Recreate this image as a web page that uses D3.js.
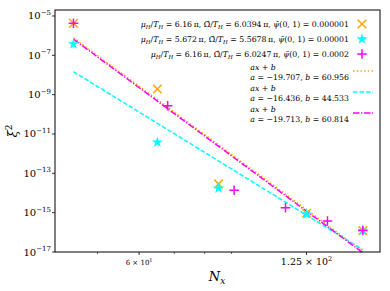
<!DOCTYPE html>
<meta charset="utf-8">
<style>
body { margin: 0; background: #fff; }
.canvas text { font-family: "DejaVu Serif", "Liberation Serif", serif; fill: #000; }
.frame { fill: none; stroke: #000; stroke-width: 1; }
.tick line { stroke: #000; stroke-width: 0.8; }
</style>
<svg class="canvas"></svg>
<script src="https://cdn.jsdelivr.net/npm/d3@7"></script>
<script>

// data (xi^2 values as log10)
var nxA = [45, 65, 85, 125, 160];
var logA = [-5.37, -8.71, -13.54, -15.03, -15.91];
var nxB = [45, 65, 85, 125, 160];
var logB = [-6.42, -11.42, -13.76, -15.08, -15.91];
var nxC = [45, 68, 91, 114, 137, 160];
var logC = [-5.37, -9.56, -13.86, -14.75, -15.42, -15.91];

// fits: xi^2 = exp(b) * Nx^a
var fitA = [-19.707, -16.436, -19.713];
var fitB = [60.956, 44.533, 60.814];
var fitRange = [45, 160];

var colors = ["#ffa500", "#00ffff", "#ff00ff"];
var dashes = ["1.5,2.2", "4.5,2", "6.5,1.6,1.3,1.6"];

var yTicks = [-5, -7, -9, -11, -13, -15, -17];
var xMajor = [60, 125];
var xMajorLab = [["6", "1"], ["1.25", "2"]];
var xMinor = [50, 70, 80, 90];

var width = 390, height = 291;
var L = 55, R = 380, T = 10, B = 252;

var svg = d3.select(".canvas").attr("width", width).attr("height", height);

var x = d3.scaleLog().domain([41.5, 172.5]).range([L, R]);
var y = d3.scaleLog().domain([1e-17, Math.pow(10, -4.695)]).range([B, T]);

// fit lines
fitA.forEach(function(a, i) {
	var pts = fitRange.map(function(n) { return [n, Math.exp(fitB[i]) * Math.pow(n, a)]; });
	svg.append("path")
		.attr("d", d3.line().x(function(d) { return x(d[0]); }).y(function(d) { return y(d[1]); })(pts))
		.attr("fill", "none")
		.attr("stroke", colors[i])
		.attr("stroke-width", 1.5)
		.attr("stroke-dasharray", dashes[i]);
});

// markers
var symX = d3.symbol().type(d3.symbolX).size(50);
var symStar = d3.symbol().type(d3.symbolStar).size(38);
var symPlus = d3.symbol().type(d3.symbolPlus).size(32);

function drawPts(nx, lg, sym, i, filled) {
	svg.selectAll(null).data(nx).enter().append("path")
		.attr("d", sym)
		.attr("transform", function(d, k) { return "translate(" + x(d) + "," + y(Math.pow(10, lg[k])) + ")"; })
		.attr("fill", filled ? colors[i] : "none")
		.attr("stroke", filled ? "none" : colors[i])
		.attr("stroke-width", 1.5);
}
drawPts(nxA, logA, symX, 0, false);
drawPts(nxB, logB, symStar, 1, true);
drawPts(nxC, logC, symPlus, 2, false);

// frame
svg.append("rect").attr("class", "frame")
	.attr("x", L).attr("y", T).attr("width", R - L).attr("height", B - T);

// y axis ticks
var yt = svg.selectAll(".ytick").data(yTicks).enter().append("g")
	.attr("class", "tick")
	.attr("transform", function(d) { return "translate(" + L + "," + y(Math.pow(10, d)) + ")"; });
yt.append("line").attr("x1", -3).attr("x2", 0);
var ytx = yt.append("text").attr("x", -4).attr("y", 3.5).attr("text-anchor", "end").attr("font-size", 10);
ytx.append("tspan").text("10");
ytx.append("tspan").attr("dy", -4.5).attr("font-size", 7).text(function(d) { return "\u2212" + (-d); });

// x axis ticks
svg.selectAll(".xminor").data(xMinor).enter().append("line")
	.attr("x1", function(d) { return x(d); }).attr("x2", function(d) { return x(d); })
	.attr("y1", B).attr("y2", B + 2)
	.attr("stroke", "#000").attr("stroke-width", 0.6);
var xt = svg.selectAll(".xtick").data(xMajor).enter().append("g")
	.attr("class", "tick")
	.attr("transform", function(d) { return "translate(" + x(d) + "," + B + ")"; });
xt.append("line").attr("y1", 0).attr("y2", 3);
var xtx = xt.append("text").attr("y", 13).attr("text-anchor", "middle")
	.attr("font-size", function(d, i) { return i == 0 ? 7 : 9.5; });
xtx.append("tspan").text(function(d, i) { return xMajorLab[i][0] + " \u00d7 10"; });
xtx.append("tspan").attr("dy", function(d, i) { return i == 0 ? -3 : -4; })
	.attr("font-size", function(d, i) { return i == 0 ? 5 : 6.5; })
	.text(function(d, i) { return xMajorLab[i][1]; });

// axis labels
var xl = svg.append("text").attr("x", 217).attr("y", 281).attr("text-anchor", "middle").attr("font-size", 13);
xl.append("tspan").attr("font-style", "italic").text("N");
xl.append("tspan").attr("font-style", "italic").attr("font-size", 9).attr("dy", 2.5).text("x");

var yl = svg.append("text").attr("transform", "translate(17,131) rotate(-90)")
	.attr("text-anchor", "middle").attr("font-size", 13);
yl.append("tspan").attr("font-style", "italic").text("\u03be");
yl.append("tspan").attr("font-size", 9).attr("dy", -5).text("2");

// legend
var legParams = [
	["6.16", "6.0394", "0.000001"],
	["5.672", "5.5678", "0.00001"],
	["6.16", "6.0247", "0.0002"]
];
var legY = [27, 42, 57];
var legSym = [symX, symStar, symPlus];
var LX = 349;

function mathText(sel, parts, fs) {
	// parts: [text, kind] where kind: "" | "i" | "sub"
	var shift = 0;
	parts.forEach(function(p) {
		var t = sel.append("tspan").text(p[0]);
		if (p[1] == "i") t.attr("font-style", "italic");
		if (p[1] == "sub") {
			t.attr("font-style", "italic").attr("font-size", fs * 0.7).attr("dy", 1.8 - shift);
			shift = 1.8;
		} else if (shift) {
			t.attr("dy", -shift);
			shift = 0;
		}
	});
}

legParams.forEach(function(p, i) {
	var fs = 7.8;
	var t = svg.append("text").attr("x", LX).attr("y", legY[i]).attr("text-anchor", "end").attr("font-size", fs);
	mathText(t, [
		["\u03bc", "i"], ["H", "sub"], ["/", ""], ["T", "i"], ["H", "sub"],
		[" = " + p[0] + "\u2009\u03c0, ", ""],
		["\u03a9\u0302", ""], ["/", ""], ["T", "i"], ["H", "sub"],
		[" = " + p[1] + "\u2009\u03c0, ", ""],
		["\u03c8\u0303", "i"], ["(0, 1) = " + p[2], ""]
	], fs);
	svg.append("path").attr("d", legSym[i])
		.attr("transform", "translate(362," + (legY[i] - 3) + ")")
		.attr("fill", i == 1 ? colors[i] : "none")
		.attr("stroke", i == 1 ? "none" : colors[i])
		.attr("stroke-width", 1.5);
});

var fitY = [67, 88, 109];
fitA.forEach(function(a, i) {
	var fs = 7.8;
	var t2 = svg.append("text").attr("x", LX).attr("y", fitY[i] + 13).attr("text-anchor", "end").attr("font-size", fs);
	mathText(t2, [["a", "i"], [" = \u2212" + (-a).toFixed(3) + ", ", ""], ["b", "i"], [" = " + fitB[i].toFixed(3), ""]], fs);
	var w = t2.node().getComputedTextLength();
	var t1 = svg.append("text").attr("x", LX - w).attr("y", fitY[i] + 2.5).attr("font-size", fs);
	mathText(t1, [["ax", "i"], [" + ", ""], ["b", "i"]], fs);
	svg.append("line")
		.attr("x1", 353).attr("x2", 373)
		.attr("y1", fitY[i] + 4).attr("y2", fitY[i] + 4)
		.attr("stroke", colors[i]).attr("stroke-width", 1.5)
		.attr("stroke-dasharray", dashes[i]);
});

</script>
